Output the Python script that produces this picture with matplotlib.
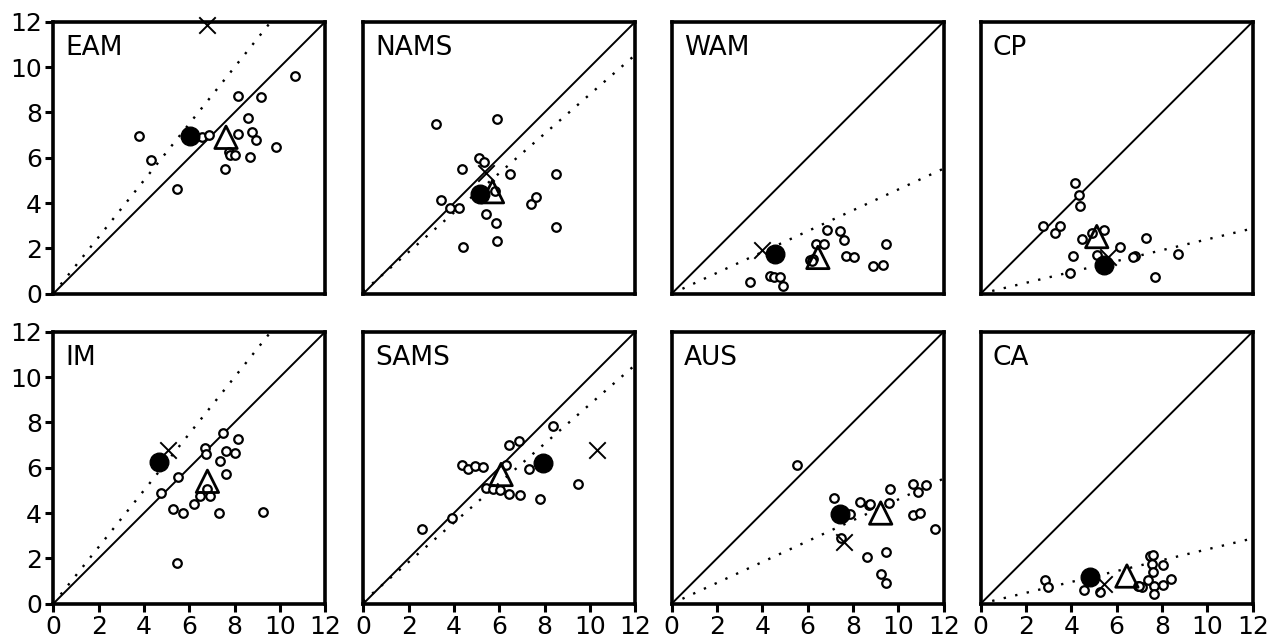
import matplotlib
matplotlib.use("Agg")
import matplotlib.pyplot as plt

plt.rcParams["font.family"] = ["Liberation Sans Narrow", "DejaVu Sans"]

regions = ["EAM", "NAMS", "WAM", "CP", "IM", "SAMS", "AUS", "CA"]

# small open circles (individual models)
circ_x = {
    "EAM": [3.8, 4.3, 5.45, 6.55, 6.85, 8.17, 8.17, 8.57, 8.78, 8.95, 9.16, 7.73, 7.78,
            8.01, 7.58, 8.69, 9.84, 10.65],
    "NAMS": [3.21, 5.89, 4.34, 5.11, 5.33, 6.48, 8.51, 3.42, 3.83, 4.21, 5.82, 5.42,
             5.85, 5.89, 4.42, 7.39, 7.63, 8.51],
    "WAM": [3.46, 4.34, 4.52, 4.76, 4.93, 6.85, 7.44, 7.58, 6.35, 6.73, 7.7, 8.06,
            8.88, 9.32, 9.47, 6.1, 6.25, 6.2],
    "CP": [4.17, 4.32, 4.36, 2.74, 3.29, 3.51, 4.46, 4.9, 5.42, 6.13, 7.29, 8.69,
           6.79, 6.7, 4.09, 5.12, 3.92, 7.7],
    "IM": [4.76, 5.52, 6.7, 6.74, 7.48, 8.17, 7.61, 8.03, 7.36, 7.63, 6.8, 6.48,
           6.92, 6.19, 5.3, 5.71, 7.29, 9.23, 5.45],
    "SAMS": [2.59, 3.9, 4.34, 4.6, 4.92, 5.26, 6.29, 6.41, 6.88, 8.39, 5.41, 5.71,
             6.04, 6.41, 6.92, 7.29, 7.78, 9.46],
    "AUS": [5.52, 7.14, 8.29, 8.69, 8.76, 9.65, 9.57, 7.88, 10.65, 10.85, 11.24,
            10.65, 10.97, 11.63, 7.47, 9.47, 8.62, 9.23, 9.47],
    "CA": [2.84, 2.99, 4.57, 5.27, 7.36, 7.48, 7.6, 7.55, 7.6, 8.04, 7.63, 7.63,
           8.04, 8.39, 6.95, 7.1, 7.0],
}
circ_y = {
    "EAM": [6.97, 5.92, 4.6, 6.92, 7.0, 8.73, 7.04, 7.73, 7.14, 6.8, 8.66, 6.26, 6.11,
            6.11, 5.52, 6.01, 6.48, 9.6],
    "NAMS": [7.48, 7.7, 5.52, 5.99, 5.79, 5.3, 5.29, 4.12, 3.76, 3.8, 4.54, 3.53,
             3.12, 2.31, 2.06, 3.95, 4.27, 2.95],
    "WAM": [0.52, 0.77, 0.74, 0.74, 0.32, 2.8, 2.77, 2.36, 2.21, 2.18, 1.65, 1.62,
            1.22, 1.25, 2.21, 1.5, 1.55, 1.45],
    "CP": [4.89, 4.34, 3.86, 3.0, 2.7, 2.97, 2.42, 2.68, 2.83, 2.06, 2.47, 1.77,
           1.65, 1.62, 1.65, 1.69, 0.91, 0.74],
    "IM": [4.89, 5.6, 6.88, 6.6, 7.51, 7.26, 6.75, 6.67, 6.3, 5.74, 5.08, 4.77,
           4.76, 4.42, 4.2, 3.98, 3.98, 4.05, 1.81],
    "SAMS": [3.31, 3.78, 6.14, 5.94, 6.07, 6.04, 6.11, 7.02, 7.17, 7.84, 5.11, 5.04,
             5.01, 4.86, 4.79, 5.94, 4.62, 5.26],
    "AUS": [6.11, 4.67, 4.49, 4.34, 4.39, 5.05, 4.45, 3.95, 5.3, 4.93, 5.23, 3.9,
            3.98, 3.28, 2.9, 2.28, 2.06, 1.33, 0.93],
    "CA": [1.06, 0.74, 0.59, 0.52, 1.06, 2.09, 2.14, 1.77, 1.4, 1.69, 0.77, 0.44,
           0.81, 1.1, 0.78, 0.75, 0.8],
}

# filled circle, triangle and cross
mean_x = [6.04, 5.16, 4.54, 5.42, 4.67, 7.91, 7.44, 4.83]
mean_y = [6.95, 4.42, 1.77, 1.25, 6.23, 6.19, 3.95, 1.18]
tri_x = [7.62, 5.7, 6.45, 5.12, 6.8, 6.08, 9.22, 6.45]
tri_y = [6.9, 4.5, 1.6, 2.52, 5.4, 5.7, 4.0, 1.22]
cross_x = [6.77, 5.42, 3.98, 5.6, 5.05, 10.31, 7.58, 5.45]
cross_y = [11.86, 5.33, 1.94, 1.62, 6.8, 6.77, 2.72, 0.85]

# regression lines (dotted)
slope = [1.25, 0.87, 0.46, 0.24, 1.25, 0.87, 0.46, 0.24]
intercept = [0.0, 0.1, 0.0, 0.0, 0.0, 0.1, 0.0, 0.0]

ticks = [0, 2, 4, 6, 8, 10, 12]


def main():
    fig = plt.figure(figsize=(12.8, 6.42), dpi=100)

    lefts = [53.3, 363.3, 671.7, 980.7]
    tops = [21.7, 331.7]
    size = 272.0

    for i, name in enumerate(regions):
        row, col = divmod(i, 4)
        ax = fig.add_axes([lefts[col] / 1280, (642 - tops[row] - size) / 642,
                           size / 1280, size / 642])
        ax.set_xlim(0, 12)
        ax.set_ylim(0, 12)

        # 1:1 line and fit
        ax.plot([0, 12], [0, 12], color="black", lw=1.4)
        ax.plot([0, 12], [intercept[i], intercept[i] + 12 * slope[i]],
                color="black", lw=1.7, linestyle=(0, (1, 4)))

        ax.scatter(circ_x[name], circ_y[name], s=38, facecolors="white",
                   edgecolors="black", linewidths=1.6, zorder=3)
        ax.scatter([tri_x[i]], [tri_y[i]], s=260, marker="^", facecolors="none",
                   edgecolors="black", linewidths=2.0, zorder=4)
        ax.scatter([mean_x[i]], [mean_y[i]], s=180, color="black", zorder=5)
        ax.scatter([cross_x[i]], [cross_y[i]], s=140, marker="x", color="black",
                   linewidths=1.4, zorder=5, clip_on=False)

        ax.text(0.045, 0.95, name, transform=ax.transAxes, ha="left", va="top",
                fontsize=19)

        for sp in ax.spines.values():
            sp.set_linewidth(2.6)

        ax.set_xticks(ticks)
        ax.set_yticks(ticks)
        ax.tick_params(direction="out", length=6, width=2.2, labelsize=18, pad=2)
        if col != 0:
            ax.tick_params(axis="y", length=0, labelleft=False)
        if row != 1:
            ax.tick_params(axis="x", length=0, labelbottom=False)

    fig.savefig("out.png", dpi=100)


if __name__ == "__main__":
    main()
